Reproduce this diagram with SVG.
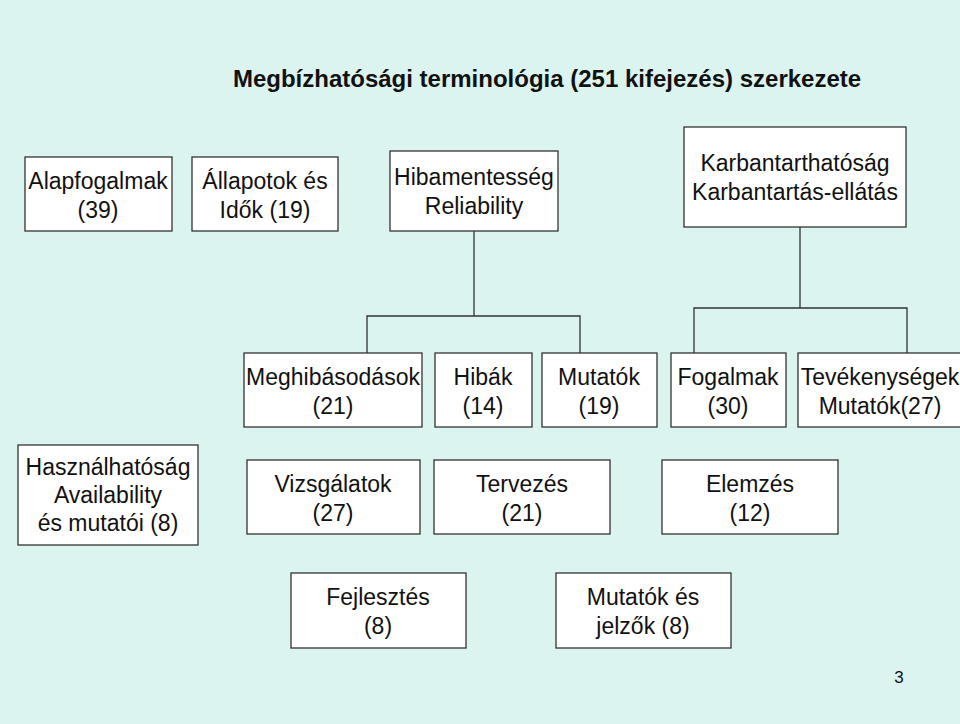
<svg xmlns="http://www.w3.org/2000/svg" width="960" height="724" viewBox="0 0 960 724">
<style>
.b{fill:#fff;stroke:#333;stroke-width:1.3}
text{font-family:"Liberation Sans",Arial,sans-serif;font-size:23px;fill:#111;text-anchor:middle}
.c{fill:none;stroke:#333;stroke-width:1.3}
</style>
<rect width="960" height="724" fill="#dcf4f0"/>
<text x="547" y="87" style="font-weight:bold;font-size:24px">Megbízhatósági terminológia (251 kifejezés) szerkezete</text>
<g id="connectors">
<path class="c" d="M474 231V316M367 353V316H580V353M800 227V308M694 353V308H907V353"/>
</g>
<g id="n1"><rect class="b" x="25" y="157" width="147" height="74"/><text x="98" y="189">Alapfogalmak</text><text x="98" y="218">(39)</text></g>
<g id="n2"><rect class="b" x="192" y="157" width="146" height="74"/><text x="265" y="189">Állapotok és</text><text x="265" y="218">Idők (19)</text></g>
<g id="n3"><rect class="b" x="390" y="151" width="168" height="80"/><text x="474" y="185">Hibamentesség</text><text x="474" y="214">Reliability</text></g>
<g id="n4"><rect class="b" x="684" y="127" width="222" height="100"/><text x="795" y="171">Karbantarthatóság</text><text x="795" y="200">Karbantartás-ellátás</text></g>
<g id="n5"><rect class="b" x="244" y="353" width="178" height="74"/><text x="333" y="385">Meghibásodások</text><text x="333" y="414">(21)</text></g>
<g id="n6"><rect class="b" x="435" y="353" width="97" height="74"/><text x="483" y="385">Hibák</text><text x="483" y="414">(14)</text></g>
<g id="n7"><rect class="b" x="542" y="353" width="115" height="74"/><text x="599" y="385">Mutatók</text><text x="599" y="414">(19)</text></g>
<g id="n8"><rect class="b" x="671" y="353" width="115" height="74"/><text x="728" y="385">Fogalmak</text><text x="728" y="414">(30)</text></g>
<g id="n9"><rect class="b" x="798" y="353" width="170" height="74"/><text x="880" y="385">Tevékenységek</text><text x="880" y="414">Mutatók(27)</text></g>
<g id="n10"><rect class="b" x="18" y="445" width="180" height="100"/><text x="108" y="475">Használhatóság</text><text x="108" y="503">Availability</text><text x="108" y="531">és mutatói (8)</text></g>
<g id="n11"><rect class="b" x="247" y="460" width="173" height="74"/><text x="333" y="492">Vizsgálatok</text><text x="333" y="521">(27)</text></g>
<g id="n12"><rect class="b" x="434" y="460" width="176" height="74"/><text x="522" y="492">Tervezés</text><text x="522" y="521">(21)</text></g>
<g id="n13"><rect class="b" x="662" y="460" width="176" height="74"/><text x="750" y="492">Elemzés</text><text x="750" y="521">(12)</text></g>
<g id="n14"><rect class="b" x="291" y="573" width="175" height="75"/><text x="378" y="605">Fejlesztés</text><text x="378" y="634">(8)</text></g>
<g id="n15"><rect class="b" x="556" y="573" width="175" height="75"/><text x="643" y="605">Mutatók és</text><text x="643" y="634">jelzők (8)</text></g>
<text x="899" y="683" style="font-size:17px">3</text>
</svg>
